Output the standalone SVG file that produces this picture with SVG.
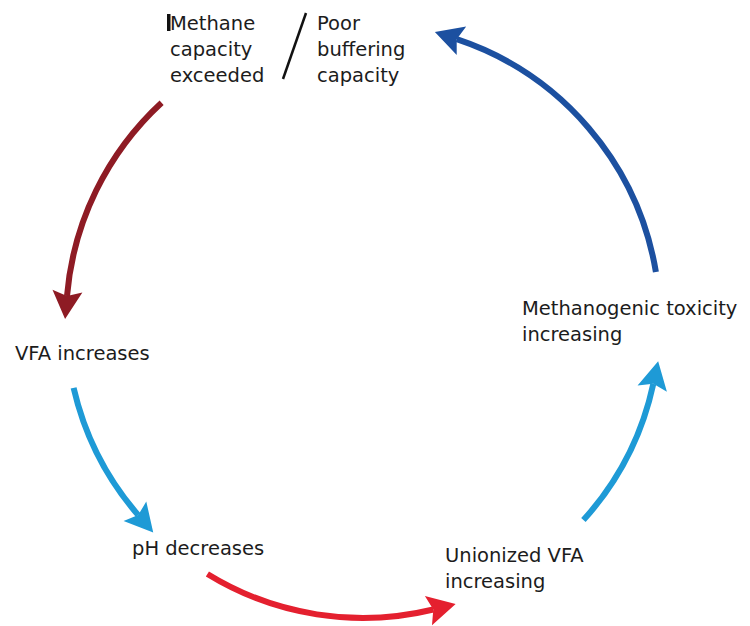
<svg xmlns="http://www.w3.org/2000/svg" width="750" height="626" viewBox="0 0 750 626">
<style>
text{font-family:"DejaVu Sans","Verdana",sans-serif;font-size:19.5px;fill:#1c1c1c;}
.arc{fill:none;stroke-width:6;stroke-linecap:butt;}
</style>
<defs>
<marker id="hDark" markerUnits="userSpaceOnUse" orient="auto" refX="0" refY="0" markerWidth="30" markerHeight="30" overflow="visible"><path d="M -5,-15 L 23,0 L -5,15 L 0,0 Z" fill="#8E1B24"/></marker>
<marker id="hCyan" markerUnits="userSpaceOnUse" orient="auto" refX="0" refY="0" markerWidth="30" markerHeight="30" overflow="visible"><path d="M -5,-15 L 23,0 L -5,15 L 0,0 Z" fill="#1E9AD6"/></marker>
<marker id="hRed" markerUnits="userSpaceOnUse" orient="auto" refX="0" refY="0" markerWidth="30" markerHeight="30" overflow="visible"><path d="M -5,-15 L 23,0 L -5,15 L 0,0 Z" fill="#E4202F"/></marker>
<marker id="hBlue" markerUnits="userSpaceOnUse" orient="auto" refX="0" refY="0" markerWidth="30" markerHeight="30" overflow="visible"><path d="M -5,-15 L 23,0 L -5,15 L 0,0 Z" fill="#1C50A0"/></marker>
</defs>
<rect width="750" height="626" fill="#fff"/>
<g id="connectors">
<path class="arc" stroke="#8E1B24" marker-end="url(#hDark)" d="M 161.6,102.7 A 297 297 0 0 0 67.0,296.1"/>
<path class="arc" stroke="#1E9AD6" marker-end="url(#hCyan)" d="M 73.6,387.8 A 297 297 0 0 0 138.2,515.1"/>
<path class="arc" stroke="#E4202F" marker-end="url(#hRed)" d="M 207.4,574.0 A 297 297 0 0 0 433.3,609.5"/>
<path class="arc" stroke="#1E9AD6" marker-end="url(#hCyan)" d="M 583.4,520.1 A 297 297 0 0 0 653.3,383.8"/>
<path class="arc" stroke="#1C50A0" marker-end="url(#hBlue)" d="M 655.9,272.0 A 297 297 0 0 0 456.7,39.2"/>
</g>
<g id="node-top">
<rect x="167" y="14" width="3.5" height="17" fill="#111"/>
<text x="170" y="30">Methane</text>
<text x="170" y="56">capacity</text>
<text x="170" y="82">exceeded</text>
<line x1="306" y1="13" x2="283" y2="79" stroke="#111" stroke-width="2.5"/>
<text x="317" y="30">Poor</text>
<text x="317" y="56">buffering</text>
<text x="317" y="82">capacity</text>
</g>
<g id="node-vfa">
<text x="15" y="360">VFA increases</text>
</g>
<g id="node-ph">
<text x="132" y="555">pH decreases</text>
</g>
<g id="node-unionized">
<text x="445" y="562">Unionized VFA</text>
<text x="445" y="588">increasing</text>
</g>
<g id="node-toxicity">
<text x="522" y="315">Methanogenic toxicity</text>
<text x="522" y="341">increasing</text>
</g>
</svg>
